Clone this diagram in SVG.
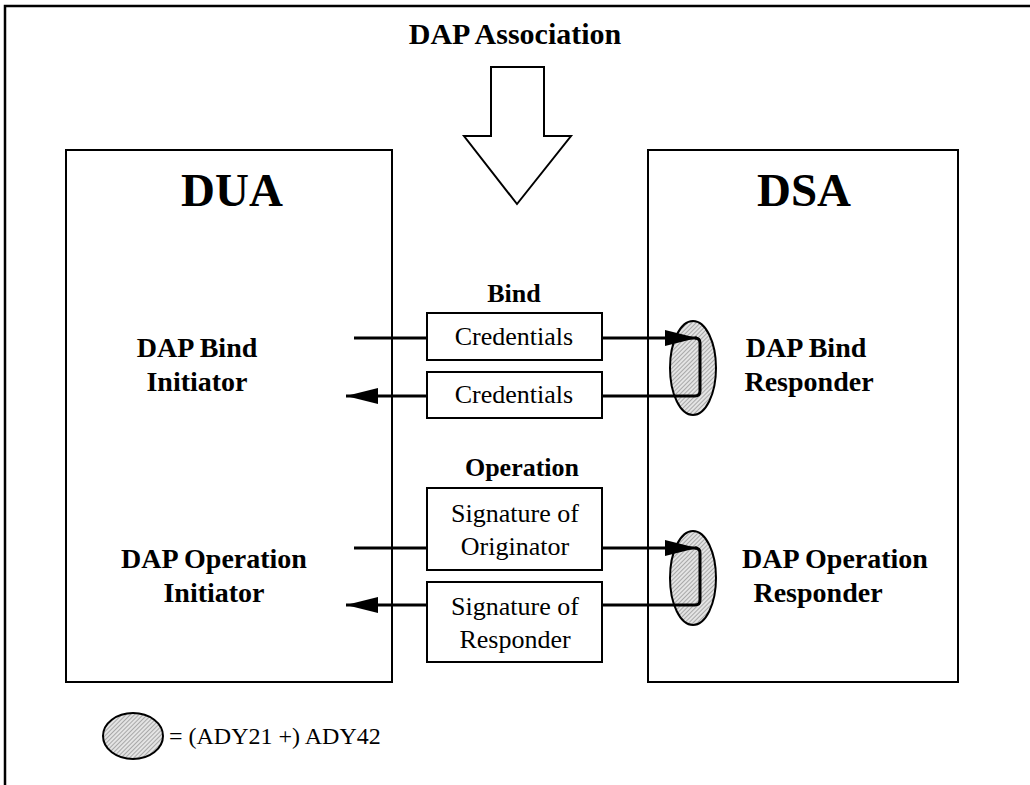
<svg xmlns="http://www.w3.org/2000/svg" width="1030" height="785" viewBox="0 0 1030 785">
<style>
text{font-family:"Liberation Serif","Times New Roman",serif;fill:#000}
.b{font-weight:bold}
.box{fill:#fff;stroke:#000;stroke-width:2}
.lbl{font-size:26px;text-anchor:middle}
.big{font-size:47px;font-weight:bold;text-anchor:middle}
.mid{font-size:28px;font-weight:bold;text-anchor:middle}
.ln{fill:none;stroke:#000;stroke-width:3}
.ell{fill:url(#hatch);stroke:#000;stroke-width:2}
</style>
<defs>
<pattern id="hatch" patternUnits="userSpaceOnUse" width="3" height="3" patternTransform="rotate(45)">
<rect width="3" height="3" fill="#e4e4e4"/>
<line x1="0" y1="0" x2="0" y2="3" stroke="#808080" stroke-width="1.2"/>
</pattern>
<marker id="ahb" viewBox="0 0 32 16" markerWidth="32" markerHeight="16" refX="32" refY="8" orient="auto" markerUnits="userSpaceOnUse">
<path d="M0,0 L32,8 L0,16 Z" fill="#000"/>
</marker>
</defs>
<rect width="1030" height="785" fill="#fff"/>
<path d="M5,785 V6 H1030" fill="none" stroke="#000" stroke-width="2.5"/>
<text class="b" x="515" y="44" font-size="30" text-anchor="middle">DAP Association</text>
<path d="M491,67 H544 V136 H571 L517,204 L464,136 H491 Z" fill="#fff" stroke="#000" stroke-width="2"/>
<g id="dua">
<rect class="box" x="66" y="150" width="326" height="532"/>
<text class="big" x="232" y="206">DUA</text>
<text class="mid" x="197" y="357">DAP Bind</text>
<text class="mid" x="197" y="391">Initiator</text>
<text class="mid" x="214" y="568">DAP Operation</text>
<text class="mid" x="214" y="602">Initiator</text>
</g>
<g id="dsa">
<rect class="box" x="648" y="150" width="310" height="532"/>
<text class="big" x="804" y="206">DSA</text>
<text class="mid" x="806" y="357">DAP Bind</text>
<text class="mid" x="809" y="391">Responder</text>
<text class="mid" x="835" y="568">DAP Operation</text>
<text class="mid" x="818" y="602">Responder</text>
</g>
<g id="connectors">
<path class="ln" d="M354,338 H427"/>
<path class="ln" d="M354,548 H427"/>
<ellipse class="ell" cx="693" cy="368" rx="23" ry="47"/>
<ellipse class="ell" cx="693" cy="578" rx="23" ry="47"/>
<path class="ln" d="M602,338 H697" marker-end="url(#ahb)"/>
<path class="ln" d="M602,396 H695 Q700,396 700,391 V343 Q700,338 695,338"/>
<path class="ln" d="M427,396 H346" marker-end="url(#ahb)"/>
<path class="ln" d="M602,548 H697" marker-end="url(#ahb)"/>
<path class="ln" d="M602,605 H695 Q700,605 700,600 V553 Q700,548 695,548"/>
<path class="ln" d="M427,605 H346" marker-end="url(#ahb)"/>
</g>
<text class="b" x="514" y="302" font-size="26" text-anchor="middle">Bind</text>
<g id="cred1">
<rect class="box" x="427" y="313" width="175" height="47"/>
<text class="lbl" x="514" y="345">Credentials</text>
</g>
<g id="cred2">
<rect class="box" x="427" y="372" width="175" height="46"/>
<text class="lbl" x="514" y="403">Credentials</text>
</g>
<text class="b" x="522" y="476" font-size="26" text-anchor="middle">Operation</text>
<g id="sigorig">
<rect class="box" x="427" y="488" width="175" height="82"/>
<text class="lbl" x="515" y="522">Signature of</text>
<text class="lbl" x="515" y="555">Originator</text>
</g>
<g id="sigresp">
<rect class="box" x="427" y="582" width="175" height="80"/>
<text class="lbl" x="515" y="615">Signature of</text>
<text class="lbl" x="515" y="648">Responder</text>
</g>
<g id="legend">
<ellipse class="ell" cx="133" cy="736" rx="30" ry="23"/>
<text x="169" y="744" font-size="24">= (ADY21 +) ADY42</text>
</g>
</svg>
